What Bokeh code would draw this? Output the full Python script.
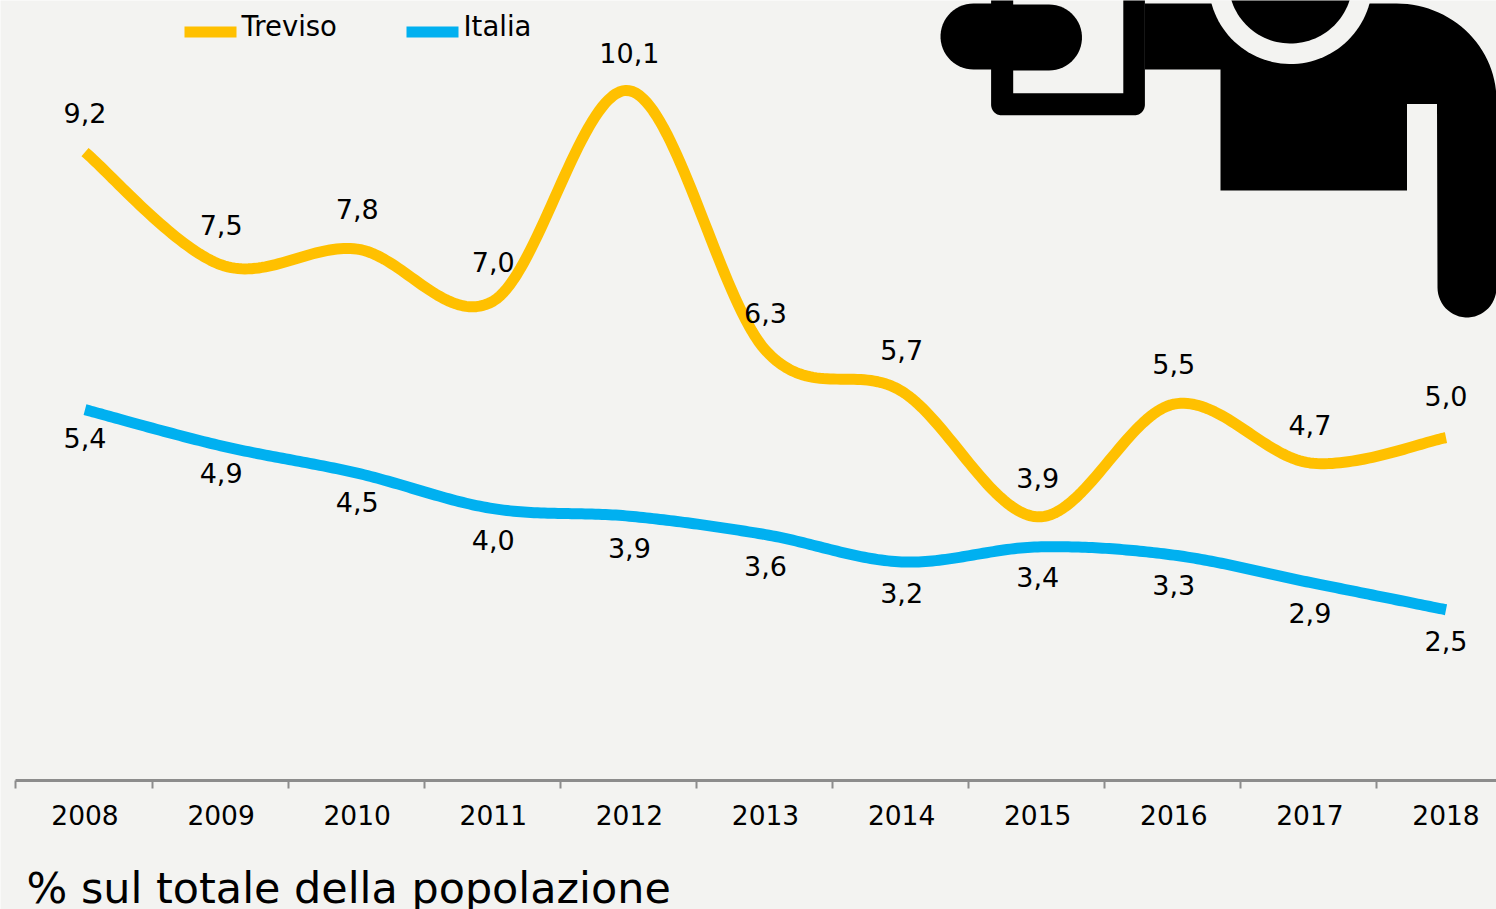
import numpy as np
from bokeh.embed import file_html
from bokeh.resources import INLINE
from bokeh.plotting import figure
from bokeh.models import Range1d, FixedTicker, LinearAxis, Label, ColumnDataSource
from bokeh.core.properties import value

years = [2008, 2009, 2010, 2011, 2012, 2013, 2014, 2015, 2016, 2017, 2018]
treviso = [9.2, 7.55, 7.78, 7.02, 10.1, 6.3, 5.7, 3.86, 5.51, 4.65, 5.02]
italia = [5.43, 4.9, 4.5, 3.98, 3.87, 3.6, 3.2, 3.42, 3.3, 2.9, 2.5]
treviso_labels = ["9,2", "7,5", "7,8", "7,0", "10,1", "6,3", "5,7", "3,9", "5,5", "4,7", "5,0"]
italia_labels = ["5,4", "4,9", "4,5", "4,0", "3,9", "3,6", "3,2", "3,4", "3,3", "2,9", "2,5"]
treviso_offset = [-39, -40, -40, -39, -38, -37, -41, -39, -40, -38, -42]
italia_offset = [28, 27, 29, 31, 32, 31, 31, 30, 30, 31, 31]

BG = "#f3f3f1"
YELLOW = "#ffc000"
BLUE = "#00b0f0"
FONT = "DejaVu Sans"
W, H, AX_Y = 1496, 909, 780
PX_PER_YEAR = 136.1
PX_PER_UNIT = 68.3
X0 = 84.5


def smooth(xs, ys, n=40):
    """Catmull-Rom smoothing through the data points, as the spreadsheet's smoothed line."""
    xs, ys = np.asarray(xs, float), np.asarray(ys, float)
    P = np.column_stack([xs, ys])
    P = np.vstack([P[0], P, P[-1]])
    out = []
    for i in range(1, len(P) - 2):
        t = np.linspace(0, 1, n, endpoint=i == len(P) - 3)[:, None]
        p0, p1, p2, p3 = P[i - 1], P[i], P[i + 1], P[i + 2]
        out.append(0.5 * (2 * p1 + (p2 - p0) * t + (2 * p0 - 5 * p1 + 4 * p2 - p3) * t**2
                          + (3 * p1 - p0 - 3 * p2 + p3) * t**3))
    out = np.vstack(out)
    return out[:, 0], out[:, 1]


xmin = years[0] - X0 / PX_PER_YEAR
xmax = xmin + W / PX_PER_YEAR
p = figure(width=W, height=H, output_backend="svg", toolbar_location=None,
           x_range=Range1d(xmin, xmax),
           y_range=Range1d(-(H - AX_Y) / PX_PER_UNIT, AX_Y / PX_PER_UNIT),
           x_axis_location=None, y_axis_location=None, min_border=0,
           background_fill_color=BG, border_fill_color=BG, outline_line_color=None)
p.grid.visible = False
p.extra_x_ranges["px"] = Range1d(0, W)
p.extra_y_ranges["py"] = Range1d(H, 0)

# bottom axis at value 0: labels on the years, tick marks between them
TICK_SHIFT = 0.5 + 1 / PX_PER_YEAR
axis = LinearAxis(ticker=FixedTicker(ticks=years, minor_ticks=[y - TICK_SHIFT for y in years]),
                  major_label_overrides={y: str(y) for y in years},
                  major_label_text_font=FONT, major_label_text_font_size="26.5px",
                  major_label_text_color="#000000", major_label_standoff=16,
                  major_tick_line_color=None, minor_tick_in=0, minor_tick_out=8,
                  minor_tick_line_color="#8c8c8c", minor_tick_line_width=2,
                  axis_line_color="#8c8c8c", axis_line_width=3,
                  bounds=(years[0] - TICK_SHIFT, xmax + 1), fixed_location=0)
p.add_layout(axis, "below")


# pictogram, in page pixels
def arc(cx, cy, rx, ry, a0, a1, n=30):
    a = np.radians(np.linspace(a0, a1, n))
    return list(cx + rx * np.cos(a)), list(cy + ry * np.sin(a))


def poly(*parts):
    xs, ys = [], []
    for part in parts:
        xs += list(part[0])
        ys += list(part[1])
    return xs, ys


def shape(xs, ys, color="#000000"):
    p.patch(xs, ys, fill_color=color, line_color=None, x_range_name="px", y_range_name="py")


# paper frame
shape(*poly(([1144.4, 1144.4], [-2, 104]), arc(1134.4, 104, 10, 10.7, 0, 90),
            arc(1000.6, 104, 10, 10.7, 90, 180), ([990.6, 990.6], [104, -2]),
            ([1012.7, 1012.7, 1122.8, 1122.8], [-2, 92.7, 92.7, -2])))
# hand
shape(*poly(arc(973, 36, 33, 33, 90, 270), arc(1000, 36, 0, 33, 270, 450)))
shape(*poly(arc(1048.5, 37, 33, 33, -90, 90), arc(1000, 37, 0, 33, 90, 270)))
# body with arms
shape(*poly(([1144.4, 1396], [3, 3]), arc(1396, 100, 100, 97, -90, 0),
            arc(1466.5, 287, 29.5, 30, 0, 180),
            ([1436.5, 1436.5, 1406.5, 1406.5, 1220, 1220, 1144.4],
             [103.5, 103.5, 103.5, 190, 190, 69, 69])))
# head and its ring
shape(*arc(1290, -19, 82, 82.5, 0, 360, 120), color=BG)
shape(*arc(1290, -19, 62, 62, 0, 360, 120))

# smoothed lines
for series, color in ((treviso, YELLOW), (italia, BLUE)):
    sx, sy = smooth(years, series)
    p.line(sx, sy, line_color=color, line_width=11, line_join="round", line_cap="butt")

# data labels
for series, labels, offs in ((treviso, treviso_labels, treviso_offset),
                             (italia, italia_labels, italia_offset)):
    src = ColumnDataSource(dict(x=years, y=series, t=labels, o=offs))
    p.text("x", "y", text="t", y_offset="o", source=src, text_font=value(FONT),
           text_font_size="27px", text_color="#000000", text_align="center",
           text_baseline="middle")

# legend
for name, color, x0 in (("Treviso", YELLOW, 184), ("Italia", BLUE, 406)):
    p.quad(left=[x0], right=[x0 + 52], top=[26], bottom=[37], fill_color=color,
           line_color=None, x_range_name="px", y_range_name="py")
    p.add_layout(Label(x=x0 + 57, y=25, text=name, x_range_name="px", y_range_name="py",
                       text_font=FONT, text_font_size="27.5px", text_color="#000000",
                       text_baseline="middle"))

p.add_layout(Label(x=26, y=887, text="% sul totale della popolazione", x_range_name="px",
                   y_range_name="py", text_font=FONT, text_font_size="42.9px",
                   text_color="#000000", text_baseline="middle"))

open("out.html", "w").write(file_html(p, INLINE))
